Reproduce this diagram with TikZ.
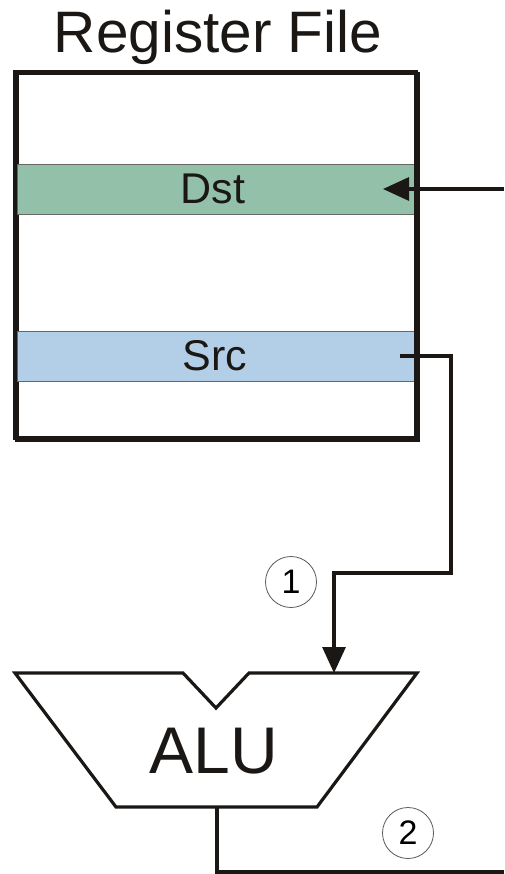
\documentclass[tikz,border=0pt]{standalone}
\usepackage{fontspec}
\setmainfont{Liberation Sans}
\usetikzlibrary{arrows.meta}
\definecolor{dstgreen}{HTML}{92C0A8}
\definecolor{srcblue}{HTML}{B3CFE8}
\definecolor{inkc}{HTML}{1A1714}
\tikzset{
  wire/.style={draw=inkc, line width=3.2pt},
  tip/.style={-{Triangle[length=26pt,width=23pt]}},
  band/.style={draw=gray!80!black, line width=0.8pt, minimum width=397pt, minimum height=50pt, inner sep=0pt, anchor=north west},
  bandtext/.style={font=\fontsize{43pt}{43pt}\selectfont, text=inkc},
  stepnum/.style={circle, draw=gray!70!black, line width=0.8pt, minimum size=51pt, inner sep=0pt, font=\fontsize{34pt}{34pt}\selectfont},
}
\begin{document}
\begin{tikzpicture}[x=1pt,y=-1pt]
\useasboundingbox (0,0) rectangle (504,874);
% title
\node[font=\fontsize{58.5pt}{58.5pt}\selectfont, text=inkc, anchor=base] (title) at (218,53) {Register File};
% register file box
\node[draw=inkc, line width=3.5pt, minimum width=401pt, minimum height=366pt, inner sep=0pt, anchor=north west] (rf) at (15,72) {};
% bands
\node[band, fill=dstgreen] (dst) at (17,164) {};
\node[bandtext] (dsttxt) at (213,189) {Dst};
\node[band, fill=srcblue] (src) at (17,331) {};
\node[bandtext] (srctxt) at (215,356) {Src};
\draw[wire, line width=3.5pt] (15,72) rectangle (416,438);
% ALU shape
\coordinate (a1) at (15,673);
\coordinate (a2) at (183,673);
\coordinate (a3) at (216,708);
\coordinate (a4) at (249,673);
\coordinate (a5) at (417,673);
\coordinate (a6) at (317,807);
\coordinate (a7) at (116,807);
\draw[wire, line join=miter] (a1) -- (a2) -- (a3) -- (a4) -- (a5) -- (a6) -- (a7) -- cycle;
\node[font=\fontsize{66pt}{66pt}\selectfont, text=inkc] (alu) at (214,751) {ALU};
% connectors
\coordinate (dstin) at (383,189);
\coordinate (dstsrc) at (504,189);
\draw[wire, tip] (dstsrc) -- (dstin);
\coordinate (srcout) at (400,356);
\coordinate (bend1) at (451,356);
\coordinate (bend2) at (451,573);
\coordinate (bend3) at (334,573);
\coordinate (aluin) at (334,673);
\draw[wire, line join=miter] (srcout) -- (bend1) -- (bend2) -- (bend3) -- (334,660);
\draw[wire, tip] (bend3) -- (aluin);
\coordinate (aluout) at (217,807);
\coordinate (bend4) at (217,872);
\coordinate (outend) at (504,872);
\draw[wire, line join=miter] (aluout) -- (bend4) -- (outend);
% step circles
\node[stepnum] (s1) at (291,582) {1};
\node[stepnum] (s2) at (408,833) {2};
\end{tikzpicture}
\end{document}
